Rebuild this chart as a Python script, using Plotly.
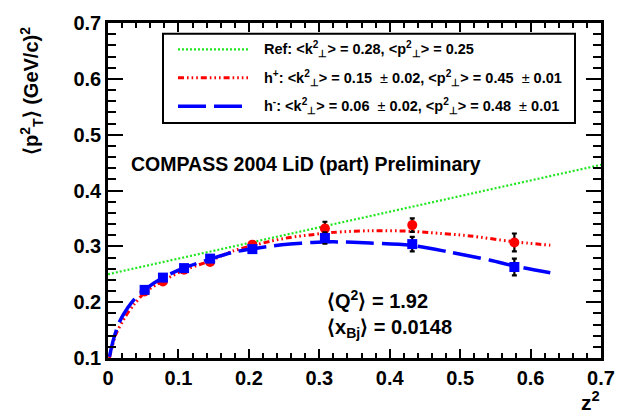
import plotly.graph_objects as go

# ---------------- data ----------------
z2_points = [0.052, 0.078, 0.108, 0.145, 0.205, 0.308, 0.432, 0.577]
hplus_pt2 = [0.219, 0.237, 0.258, 0.272, 0.303, 0.332, 0.338, 0.307]
hplus_err = [0.003, 0.003, 0.003, 0.004, 0.005, 0.012, 0.012, 0.016]
hminus_pt2 = [0.222, 0.244, 0.261, 0.278, 0.295, 0.315, 0.304, 0.263]
hminus_err = [0.003, 0.003, 0.003, 0.004, 0.005, 0.010, 0.013, 0.015]

ref_x = [0.0, 0.7]
ref_y = [0.25, 0.446]

hplus_fit_x = [0.002, 0.0114, 0.025, 0.037, 0.052, 0.068, 0.0776, 0.107, 0.145, 0.178,
               0.205, 0.230, 0.2585, 0.287, 0.32, 0.372, 0.43, 0.457, 0.514, 0.571, 0.628]
hplus_fit_y = [0.100, 0.143, 0.175, 0.196, 0.217, 0.231, 0.238, 0.257, 0.274, 0.292,
               0.301, 0.309, 0.316, 0.3205, 0.325, 0.328, 0.327, 0.3245, 0.3187, 0.309, 0.302]

hminus_fit_x = [0.002, 0.0075, 0.016, 0.028, 0.039, 0.052, 0.078, 0.107, 0.145, 0.178,
                0.230, 0.2585, 0.29, 0.32, 0.372, 0.43, 0.486, 0.543, 0.58, 0.628]
hminus_fit_y = [0.102, 0.132, 0.164, 0.190, 0.2075, 0.222, 0.244, 0.261, 0.277, 0.2895,
                0.300, 0.304, 0.307, 0.308, 0.306, 0.302, 0.2895, 0.275, 0.264, 0.2526]

x_tickvals = [0, 0.1, 0.2, 0.3, 0.4, 0.5, 0.6, 0.7]
x_ticktext = ["0", "0.1", "0.2", "0.3", "0.4", "0.5", "0.6", "0.7"]
y_tickvals = [0.1, 0.2, 0.3, 0.4, 0.5, 0.6, 0.7]
y_ticktext = ["0.1", "0.2", "0.3", "0.4", "0.5", "0.6", "0.7"]

PM = "<span style='font-weight:normal'>±</span>"
legend_labels = [
    "Ref: &lt;k<sup>2</sup><sub>⊥</sub>&gt; = 0.28, &lt;p<sup>2</sup><sub>⊥</sub>&gt; = 0.25",
    f"h<sup>+</sup>: &lt;k<sup>2</sup><sub>⊥</sub>&gt; = 0.15  {PM} 0.02, &lt;p<sup>2</sup><sub>⊥</sub>&gt; = 0.45  {PM} 0.01",
    f"h<sup>-</sup>: &lt;k<sup>2</sup><sub>⊥</sub>&gt; = 0.06  {PM} 0.02, &lt;p<sup>2</sup><sub>⊥</sub>&gt; = 0.48  {PM} 0.01",
]

# ---------------- layout geometry ----------------
W, H = 630, 414
ML, MR, MT, MB = 108, 29, 16, 56
PW, PH = W - ML - MR, H - MT - MB


def px(xp):
    return (xp - ML) / PW


def py(yp):
    return (H - MB - yp) / PH


FONT = "Liberation Sans, Arial, Helvetica, sans-serif"
GREEN = "#1fe61f"
RED = "#ff0000"
BLUE = "#0000ff"
RED_DASH = "6px,3px,1.6px,3px,1.6px,3px,1.6px,3px"
BLUE_DASH = "28px,8px"
GREEN_DASH = "2px,2px"

fig = go.Figure()

fig.add_trace(go.Scatter(x=ref_x, y=ref_y, mode="lines",
                         line=dict(color=GREEN, width=2.2, dash=GREEN_DASH),
                         showlegend=False, hoverinfo="skip"))
fig.add_trace(go.Scatter(x=hplus_fit_x, y=hplus_fit_y, mode="lines",
                         line=dict(color=RED, width=3, dash=RED_DASH, shape="spline", smoothing=0.8),
                         showlegend=False, hoverinfo="skip"))
fig.add_trace(go.Scatter(x=hminus_fit_x, y=hminus_fit_y, mode="lines",
                         line=dict(color=BLUE, width=3.5, dash=BLUE_DASH, shape="spline", smoothing=0.8),
                         showlegend=False, hoverinfo="skip"))

fig.add_trace(go.Scatter(x=z2_points, y=hplus_pt2, mode="markers",
                         marker=dict(color=RED, size=10, symbol="circle"),
                         error_y=dict(type="data", array=hplus_err, color="black", thickness=2.2, width=2.5),
                         showlegend=False))
fig.add_trace(go.Scatter(x=z2_points, y=hminus_pt2, mode="markers",
                         marker=dict(color=BLUE, size=10, symbol="square"),
                         error_y=dict(type="data", array=hminus_err, color="black", thickness=2.2, width=2.5),
                         showlegend=False))

axis_common = dict(
    showline=True, linecolor="black", linewidth=2.5, mirror="allticks",
    ticks="inside", tickcolor="black", tickwidth=2,
    showgrid=False, zeroline=False,
    tickfont=dict(family=FONT, size=20, color="black", weight="bold"),
)

fig.update_xaxes(range=[0, 0.7], tickvals=x_tickvals, ticktext=x_ticktext, ticklen=9,
                 minor=dict(ticks="inside", dtick=0.02, ticklen=5, tickwidth=2, tickcolor="black"),
                 **axis_common)
fig.update_yaxes(range=[0.1, 0.7], tickvals=y_tickvals, ticktext=y_ticktext, ticklen=15,
                 minor=dict(ticks="inside", dtick=0.02, ticklen=8, tickwidth=2, tickcolor="black"),
                 **axis_common)

shapes = []
annotations = []

# legend box
shapes.append(dict(type="rect", xref="paper", yref="paper",
                   x0=px(163), x1=px(575), y0=py(118), y1=py(27),
                   line=dict(color="black", width=2), fillcolor="white", layer="above"))
legend_rows = [43, 72, 101]
legend_styles = [(GREEN, 2.2, GREEN_DASH), (RED, 3, RED_DASH), (BLUE, 3.5, BLUE_DASH)]
for yrow, (col, wdt, dsh), lab in zip(legend_rows, legend_styles, legend_labels):
    shapes.append(dict(type="line", xref="paper", yref="paper",
                       x0=px(178), x1=px(248), y0=py(yrow), y1=py(yrow),
                       line=dict(color=col, width=wdt, dash=dsh), layer="above"))
    annotations.append(dict(xref="paper", yref="paper", x=px(262), y=py(yrow),
                            xanchor="left", yanchor="middle", showarrow=False, text=lab,
                            font=dict(family=FONT, size=14.5, color="black", weight="bold")))

annotations.append(dict(xref="paper", yref="paper", x=px(129), y=py(160),
                        xanchor="left", yanchor="middle", showarrow=False,
                        text="COMPASS 2004 LiD (part) Preliminary",
                        font=dict(family=FONT, size=19.5, color="black", weight="bold")))
annotations.append(dict(xref="paper", yref="paper", x=px(325), y=py(298),
                        xanchor="left", yanchor="middle", showarrow=False,
                        text="⟨Q<sup>2</sup>⟩ = 1.92",
                        font=dict(family=FONT, size=20, color="black", weight="bold")))
annotations.append(dict(xref="paper", yref="paper", x=px(325), y=py(328),
                        xanchor="left", yanchor="middle", showarrow=False,
                        text="⟨x<sub>Bj</sub>⟩ = 0.0148",
                        font=dict(family=FONT, size=20, color="black", weight="bold")))
# axis titles
annotations.append(dict(xref="paper", yref="paper", x=px(602), y=py(402),
                        xanchor="right", yanchor="middle", showarrow=False,
                        text="z<sup>2</sup>",
                        font=dict(family=FONT, size=21, color="black", weight="bold")))
annotations.append(dict(xref="paper", yref="paper", x=px(32), y=py(18),
                        xanchor="center", yanchor="top", showarrow=False, textangle=-90,
                        text="⟨p<sup>2</sup><sub>T</sub>⟩ (GeV/c)<sup>2</sup>",
                        font=dict(family=FONT, size=20, color="black", weight="bold")))

fig.update_layout(
    width=W, height=H,
    margin=dict(l=ML, r=MR, t=MT, b=MB, pad=0),
    paper_bgcolor="white", plot_bgcolor="white",
    showlegend=False,
    shapes=shapes, annotations=annotations,
    font=dict(family=FONT, color="black"),
)

# remove the default page margin so the 630x414 figure fills the window exactly
fig.write_html("out.html",
               config={"displayModeBar": False},
               post_script="document.body.style.margin='0';document.body.style.padding='0';"
                           "document.body.style.overflow='hidden';")
